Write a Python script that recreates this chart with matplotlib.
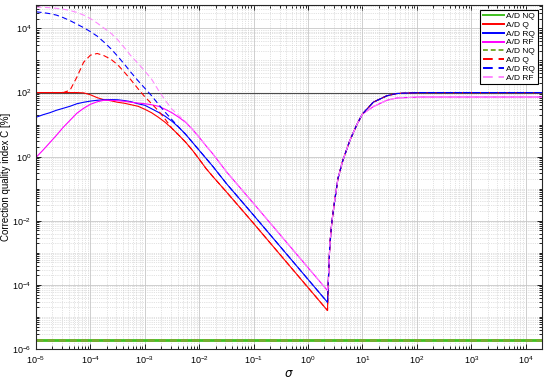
import numpy as np
import matplotlib
matplotlib.use("Agg")
import matplotlib.pyplot as plt
from matplotlib.ticker import LogLocator, NullFormatter

plt.rcParams['font.family'] = ['Liberation Sans', 'DejaVu Sans']
plt.rcParams['mathtext.default'] = 'regular'

# log10 of sigma, shared by all curves
log_sigma = [-5, -4.875, -4.75, -4.625, -4.5, -4.375, -4.25, -4.125, -4, -3.875,
             -3.75, -3.625, -3.5, -3.375, -3.25, -3.125, -3, -2.875, -2.75, -2.625,
             -2.5, -2.375, -2.25, -2.125, -2, -1.875, -1.75,
             -1.5, -1, -0.5, 0, 0.358,
             0.37, 0.40, 0.437, 0.49, 0.55, 0.64, 0.77, 0.90, 1.0, 1.2, 1.45, 1.63, 2.05, 3, 4.3]

# log10 of C [%]
log_c_q = [2.0, 2.0, 2.0, 2.0, 2.0, 2.0, 2.0, 1.99, 1.93, 1.84,
           1.775, 1.744, 1.697, 1.666, 1.619, 1.572, 1.478, 1.369, 1.228, 1.07,
           0.88, 0.67, 0.45, 0.20, -0.08, -0.37, -0.62,
           -1.10, -2.084, -3.084, -4.084, -4.80,
           -4.0, -2.77, -2.05, -1.37, -0.68, -0.115, 0.51, 1.01, 1.33, 1.70, 1.90, 1.97, 2.0, 2.0, 2.0]
log_c_rq = [1.228, 1.306, 1.369, 1.447, 1.509, 1.572, 1.65, 1.697, 1.734, 1.759,
            1.775, 1.781, 1.775, 1.75, 1.7125, 1.65, 1.603, 1.494, 1.384, 1.259,
            1.103, 0.916, 0.697, 0.447, 0.197, -0.053, -0.303,
            -0.84, -1.828, -2.828, -3.828, -4.544,
            -4.0, -2.77, -2.05, -1.37, -0.68, -0.115, 0.51, 1.01, 1.33, 1.70, 1.90, 1.97, 2.0, 2.0, 2.0]
log_c_rf = [-0.022, 0.197, 0.431, 0.666, 0.916, 1.134, 1.353, 1.509, 1.634, 1.7125,
            1.759, 1.759, 1.744, 1.728, 1.697, 1.672, 1.65, 1.619, 1.572, 1.478,
            1.369, 1.228, 1.072, 0.853, 0.603, 0.3375, 0.0875,
            -0.47, -1.462, -2.462, -3.462, -4.178,
            -4.0, -2.77, -2.05, -1.37, -0.68, -0.115, 0.51, 1.01, 1.33, 1.56, 1.76, 1.83, 1.86, 1.86, 1.86]

# uncorrected (dashed)
log_u_q = [2.0, 2.0, 2.0, 2.0, 2.0, 2.072, 2.478, 2.947, 3.166, 3.219,
           3.15, 3.04, 2.869, 2.634, 2.384, 2.119, 1.869, 1.65, 1.431, 1.166,
           0.88, 0.67, 0.45, 0.20, -0.08, -0.37, -0.62,
           -1.10, -2.084, -3.084, -4.084, -4.80,
           -4.0, -2.77, -2.05, -1.37, -0.68, -0.115, 0.51, 1.01, 1.33, 1.70, 1.90, 1.97, 2.0, 2.0, 2.0]
log_u_rq = [4.519, 4.494, 4.4625, 4.416, 4.3375, 4.244, 4.134, 4.025, 3.9, 3.759,
            3.572, 3.369, 3.134, 2.884, 2.619, 2.369, 2.134, 1.9, 1.634, 1.384,
            1.15, 0.916, 0.697, 0.447, 0.197, -0.053, -0.303,
            -0.84, -1.828, -2.828, -3.828, -4.544,
            -4.0, -2.77, -2.05, -1.37, -0.68, -0.115, 0.51, 1.01, 1.33, 1.70, 1.90, 1.97, 2.0, 2.0, 2.0]
log_u_rf = [4.666, 4.659, 4.647, 4.628, 4.6, 4.559, 4.5, 4.416, 4.306, 4.166,
            4.009, 3.853, 3.65, 3.4, 3.134, 2.91, 2.67, 2.416, 2.072, 1.759,
            1.478, 1.28, 1.09, 0.853, 0.603, 0.3375, 0.0875,
            -0.47, -1.462, -2.462, -3.462, -4.178,
            -4.0, -2.77, -2.05, -1.37, -0.68, -0.115, 0.51, 1.01, 1.33, 1.56, 1.76, 1.83, 1.86, 1.86, 1.86]

c_nq = 1.9e-6
c_ref = 100

sigma = 10.0 ** np.array(log_sigma)

fig = plt.figure(figsize=(5.5, 3.81), dpi=100)
ax = fig.add_axes([0.0655, 0.084, 0.92, 0.9016])

lw = 0.8
dash = (0, (5, 3))
ax.axhline(c_ref, color='0.3', lw=0.8, zorder=2)
ax.plot([sigma[0], sigma[-1]], [c_nq, c_nq], color='#40c020', lw=2, label='A/D NQ')
ax.plot(sigma, 10.0 ** np.array(log_c_q), color='#ff0000', lw=lw, label='A/D Q')
ax.plot(sigma, 10.0 ** np.array(log_c_rq), color='#0000ff', lw=lw, label='A/D RQ')
ax.plot(sigma, 10.0 ** np.array(log_c_rf), color='#ff00ff', lw=lw, label='A/D RF')
ax.plot([sigma[0], sigma[-1]], [c_nq, c_nq], color='#77ac30', lw=2, ls=(0, (2.5, 1.5)), label='A/D NQ')
ax.plot(sigma, 10.0 ** np.array(log_u_q), color='#ff0000', lw=lw, ls=dash, label='A/D Q')
ax.plot(sigma, 10.0 ** np.array(log_u_rq), color='#0000ff', lw=lw, ls=dash, label='A/D RQ')
ax.plot(sigma, 10.0 ** np.array(log_u_rf), color='#ff88ff', lw=lw, ls=dash, label='A/D RF')

ax.set_xscale('log')
ax.set_yscale('log')
ax.set_xlim(1e-5, 2e4)
ax.set_ylim(1e-6, 5.2e4)
ax.set_xticks([10.0 ** k for k in range(-5, 5)])
ax.set_yticks([10.0 ** k for k in range(-6, 5, 2)])
ax.xaxis.set_minor_locator(LogLocator(base=10, subs=np.arange(1, 10), numticks=100))
ax.yaxis.set_minor_locator(LogLocator(base=10, subs=np.arange(1, 10), numticks=100))
ax.xaxis.set_minor_formatter(NullFormatter())
ax.yaxis.set_minor_formatter(NullFormatter())

ax.tick_params(which='both', direction='in', top=True, right=True, labelsize=6.5, width=0.6)
ax.tick_params(which='major', length=3.5)
ax.tick_params(which='minor', length=2)
ax.grid(True, which='major', color='0.78', lw=0.6, ls='-')
ax.grid(True, which='minor', color='0.78', lw=0.5, ls=':')
ax.set_axisbelow(True)
for s in ax.spines.values():
    s.set_linewidth(0.8)
    s.set_color('0.15')

ax.set_xlabel(r'$\it{\sigma}$', fontsize=8.5, labelpad=2)
ax.set_ylabel('Correction quality index C [%]', fontsize=7)
ax.yaxis.set_label_coords(-0.05, 0.5)

leg = ax.legend(loc='upper right', fontsize=6, fancybox=False, framealpha=1,
                edgecolor='black', borderaxespad=0.5, labelspacing=0.12,
                handlelength=2.5, handletextpad=0.35, borderpad=0.3)
leg.get_frame().set_linewidth(0.8)
for h in leg.get_lines():
    h.set_linewidth(1.4)

fig.savefig('out.png', dpi=100)
